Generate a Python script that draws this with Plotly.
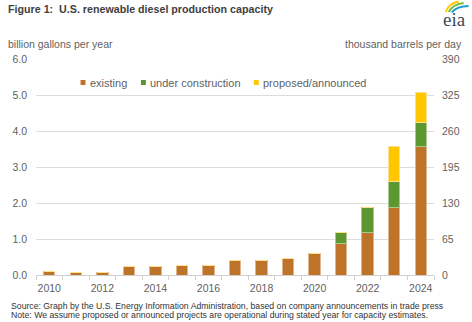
import plotly.graph_objects as go

# U.S. renewable diesel production capacity, billion gallons per year
years = list(range(2010, 2025))
existing = [0.09, 0.06, 0.06, 0.25, 0.24, 0.27, 0.27, 0.40, 0.40, 0.47, 0.59, 0.88, 1.18, 1.88, 3.56]
under_construction = [0, 0, 0, 0, 0, 0, 0, 0, 0, 0, 0, 0.30, 0.70, 0.71, 0.68]
proposed = [0, 0, 0, 0, 0, 0, 0, 0, 0, 0, 0, 0, 0, 0.97, 0.82]

series_names = ["existing", "under construction", "proposed/announced"]
series_colors = ["#BD732A", "#5D9732", "#FFC702"]
series_edges = ["#E2B48A", "#A9C98F", "#FFE08A"]

left_ticks = [0, 1, 2, 3, 4, 5, 6]
right_ticks = [0, 65, 130, 195, 260, 325, 390]
year_labels = [2010, 2012, 2014, 2016, 2018, 2020, 2022, 2024]

W, H = 472, 322
L, R, T, B = 32, 38, 59, 47
PW, PH = W - L - R, H - T - B

FONT = "Liberation Sans, Arial, sans-serif"
GREY = "#5F5F5F"


def px(x):
    return (x - L) / PW


def py(y):
    return (H - B - y) / PH


fig = go.Figure()
for name, vals, col, edge in zip(series_names, [existing, under_construction, proposed],
                                 series_colors, series_edges):
    fig.add_trace(go.Bar(
        x=years, y=vals, name=name, showlegend=False,
        marker=dict(color=col, line=dict(color=edge, width=1)),
    ))

fig.update_layout(
    width=W, height=H,
    margin=dict(l=L, r=R, t=T, b=B),
    barmode="stack", bargap=0.57,
    plot_bgcolor="white", paper_bgcolor="white",
    font=dict(family=FONT, size=10.5, color=GREY),
    xaxis=dict(
        range=[2009.5, 2024.5],
        tickvals=year_labels, ticks="", showgrid=False,
        showline=True, linecolor="#D0D0D0", linewidth=1,
        tickfont=dict(size=10.5, color=GREY),
        ticklabelstandoff=3,
        minor=dict(tick0=2009.5, dtick=1, ticks="outside", ticklen=4,
                   tickcolor="#D0D0D0", showgrid=False),
    ),
    yaxis=dict(
        range=[0, 6], tickvals=left_ticks, tickformat=".1f",
        showgrid=True, gridcolor="#DCDCDC", gridwidth=1,
        zeroline=False, ticks="", ticklabelstandoff=8,
        tickfont=dict(size=10.5, color=GREY),
    ),
    yaxis2=dict(
        range=[0, 390], tickvals=right_ticks, overlaying="y", side="right",
        showgrid=False, zeroline=False, ticks="", ticklabelstandoff=7,
        tickfont=dict(size=10.5, color=GREY),
    ),
)

# a hidden trace keeps the right-hand axis in place
fig.add_trace(go.Scatter(x=[years[0]], y=[0], yaxis="y2", mode="markers",
                         marker=dict(opacity=0), showlegend=False, hoverinfo="skip"))

annotations = []
shapes = []

# legend row
legend_x = [77, 138, 252]
for name, col, x0 in zip(series_names, series_colors, legend_x):
    shapes.append(dict(type="rect", xref="paper", yref="paper",
                       x0=px(x0), x1=px(x0 + 5), y0=py(85), y1=py(80),
                       fillcolor=col, line=dict(width=0)))
    annotations.append(dict(text=name, xref="paper", yref="paper",
                            x=px(x0 + 7.5), y=py(82.5), xanchor="left", yanchor="middle",
                            showarrow=False, font=dict(size=11, color=GREY)))

# title and axis units
annotations.append(dict(text="<b>Figure 1:  U.S. renewable diesel production capacity</b>",
                        xref="paper", yref="paper", x=px(2), y=py(9),
                        xanchor="left", yanchor="middle", showarrow=False,
                        font=dict(size=10.7, color="#404040")))
annotations.append(dict(text="billion gallons per year", xref="paper", yref="paper",
                        x=px(2), y=py(44), xanchor="left", yanchor="middle",
                        showarrow=False, font=dict(size=10.5, color=GREY)))
annotations.append(dict(text="thousand barrels per day", xref="paper", yref="paper",
                        x=px(464), y=py(44), xanchor="right", yanchor="middle",
                        showarrow=False, font=dict(size=10.5, color=GREY)))

# source notes
annotations.append(dict(text="Source: Graph by the U.S. Energy Information Administration, "
                             "based on company announcements in trade press",
                        xref="paper", yref="paper", x=px(5), y=py(305.5),
                        xanchor="left", yanchor="middle", showarrow=False,
                        font=dict(size=8.7, color="#333333")))
annotations.append(dict(text="Note: We assume proposed or announced projects are operational "
                             "during stated year for capacity estimates.",
                        xref="paper", yref="paper", x=px(5), y=py(314.5),
                        xanchor="left", yanchor="middle", showarrow=False,
                        font=dict(size=8.7, color="#333333")))

# eia logo: wordmark and swoosh
annotations.append(dict(text="eia", xref="paper", yref="paper", x=px(455), y=py(19),
                        xanchor="center", yanchor="middle", showarrow=False,
                        font=dict(family="Liberation Serif, DejaVu Serif, serif",
                                  size=19, color="#3E4A5A")))


def path(pts):
    (x0, y0), (cx, cy), (x1, y1) = pts
    return (f"M {px(x0)},{py(y0)} Q {px(cx)},{py(cy)} {px(x1)},{py(y1)}")


for pts, col in [
    (((446, 12), (449, 3), (459, 1.5)), "#FFC702"),
    (((449, 12), (453, 4), (464, 3)), "#7DBA3C"),
    (((452, 12.5), (457, 6), (469, 6)), "#1E9BD7"),
]:
    shapes.append(dict(type="path", xref="paper", yref="paper", path=path(pts),
                       line=dict(color=col, width=2)))

fig.update_layout(annotations=annotations, shapes=shapes)

fig.write_html("out.html")
